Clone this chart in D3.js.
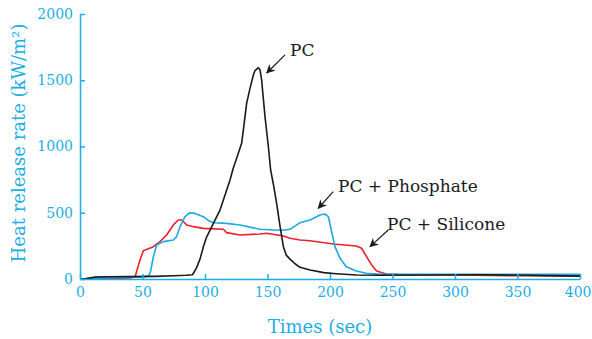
<!DOCTYPE html>
<html>
<head>
<meta charset="utf-8">
<script src="https://cdn.jsdelivr.net/npm/d3@7"></script>
<style>
  body { margin: 0; background: #fff; }
  svg { display: block; font-family: 'DejaVu Serif', serif; }
</style>
</head>
<body>
<svg id="chart" width="592" height="339"></svg>
<script>
// heat release rate curves (time in s, HRR in kW/m2)
const pcTime = [0, 5, 12, 20, 40, 60, 75, 85, 90, 93, 96, 98.7, 101, 106.7, 112, 114.7, 120, 122.7, 126, 129.3, 130.7, 133.3, 136, 138.7, 140, 142.7, 144, 145.3, 148, 150.7, 152.5, 155, 157.3, 160, 162.7, 165, 168, 172, 176, 184, 195, 205, 221, 240, 280, 320, 360, 400];
const pcHrr = [0, 3, 14, 17, 18, 20, 24, 28, 32, 80, 150, 244, 310, 420, 520, 596, 747, 840, 930, 1024, 1125, 1326, 1439, 1540, 1573, 1595, 1580, 1502, 1225, 998, 823, 700, 571, 400, 244, 180, 150, 115, 88, 68, 48, 40, 30, 28, 30, 32, 28, 22];

const phosTime = [0, 10, 20, 40, 52, 55, 56.5, 58.7, 61.3, 66.7, 74.7, 77.3, 80, 84, 88, 92, 98.7, 103, 106.7, 117, 128, 144, 155, 162.7, 168, 176, 184, 192, 196, 198.7, 201, 204, 208, 213, 221, 229, 240, 280, 320, 360, 400];
const phosHrr = [0, 5, 10, 14, 18, 25, 60, 168, 257, 282, 294, 320, 395, 470, 500, 495, 470, 440, 425, 420, 408, 375, 370, 368, 375, 425, 445, 483, 490, 470, 370, 244, 156, 93, 60, 43, 35, 35, 36, 35, 35];

const siliTime = [0, 10, 20, 40, 44, 46, 48, 50.7, 58.7, 64, 69.3, 74.7, 78.7, 81.3, 85.3, 90.7, 98.7, 114.7, 117.3, 128, 144, 149.3, 162.7, 168, 176, 184, 202.7, 221, 225.3, 229.3, 233.3, 237.3, 245, 260, 300, 350, 400];
const siliHrr = [0, 3, 5, 8, 15, 80, 143, 214, 244, 282, 332, 408, 445, 445, 408, 395, 382, 375, 350, 332, 340, 345, 325, 307, 294, 289, 264, 249, 232, 168, 106, 60, 38, 32, 30, 25, 22];

const xTicks = [0, 50, 100, 150, 200, 250, 300, 350, 400];
const yTicks = [0, 500, 1000, 1500, 2000];

// label text, label anchor, arrow tail, arrow head (data units)
const notes = [
  { text: 'PC', at: [168, 1683], from: [164, 1691], to: [149.4, 1555] },
  { text: 'PC + Phosphate', at: [206.4, 657], from: [202.6, 659], to: [190.6, 534] },
  { text: 'PC + Silicone', at: [245.6, 370], from: [246.6, 370], to: [232, 244] }
];

const cyan = '#1badE6';
const svg = d3.select('#chart');

const x = d3.scaleLinear().domain([0, 400]).range([80, 580]);
const y = d3.scaleLinear().domain([0, 2000]).range([279, 14]);

const series = [
  { t: siliTime, v: siliHrr, color: '#e8212b' },
  { t: phosTime, v: phosHrr, color: '#1aa9e2' },
  { t: pcTime, v: pcHrr, color: '#1a1a1a' }
];

const line = d3.line().x(d => x(d[0])).y(d => y(d[1]));

svg.selectAll('path.curve')
  .data(series)
  .enter()
  .append('path')
  .attr('class', 'curve')
  .attr('d', s => line(s.t.map((t, i) => [t, s.v[i]])))
  .attr('fill', 'none')
  .attr('stroke', s => s.color)
  .attr('stroke-width', 1.6)
  .attr('stroke-linejoin', 'round');

// axes, ticks pointing inward
const xAxis = svg.append('g')
  .attr('transform', 'translate(0,' + y(0) + ')')
  .call(d3.axisBottom(x).tickValues(xTicks).tickFormat(d3.format('d'))
    .tickSizeInner(-5).tickSizeOuter(0).tickPadding(8));
const yAxis = svg.append('g')
  .attr('transform', 'translate(' + x(0) + ',0)')
  .call(d3.axisLeft(y).tickValues(yTicks).tickFormat(d3.format('d'))
    .tickSizeInner(-5).tickSizeOuter(0).tickPadding(7));

[xAxis, yAxis].forEach(g => {
  g.attr('font-family', "'DejaVu Serif', serif").attr('font-size', 14);
  g.select('.domain').attr('stroke', cyan).attr('stroke-width', 1.5);
  g.selectAll('.tick line').attr('stroke', cyan).attr('stroke-width', 1.5);
  g.selectAll('.tick text').attr('fill', cyan);
});

// last x label sits against the right edge, keep it inside
xAxis.selectAll('.tick text')
  .filter(d => d === 400)
  .attr('text-anchor', 'end')
  .attr('dx', 11);

svg.append('text')
  .attr('x', 320)
  .attr('y', 333)
  .attr('text-anchor', 'middle')
  .attr('fill', cyan)
  .style('font-size', '18px')
  .text('Times (sec)');

svg.append('text')
  .attr('transform', 'translate(25,143) rotate(-90)')
  .attr('text-anchor', 'middle')
  .attr('fill', cyan)
  .style('font-size', '18px')
  .text('Heat release rate (kW/m²)');

// annotations
svg.append('defs')
  .append('marker')
  .attr('id', 'head')
  .attr('viewBox', '0 0 10 10')
  .attr('refX', 9)
  .attr('refY', 5)
  .attr('markerWidth', 9)
  .attr('markerHeight', 9)
  .attr('markerUnits', 'userSpaceOnUse')
  .attr('orient', 'auto')
  .append('path')
  .attr('d', 'M0,0 L10,5 L0,10 L3,5 Z')
  .attr('fill', '#1a1a1a');

const note = svg.selectAll('g.note').data(notes).enter().append('g').attr('class', 'note');
note.append('line')
  .attr('x1', d => x(d.from[0]))
  .attr('y1', d => y(d.from[1]))
  .attr('x2', d => x(d.to[0]))
  .attr('y2', d => y(d.to[1]))
  .attr('stroke', '#1a1a1a')
  .attr('stroke-width', 1.2)
  .attr('marker-end', 'url(#head)');
note.append('text')
  .attr('x', d => x(d.at[0]))
  .attr('y', d => y(d.at[1]))
  .attr('fill', '#1a1a1a')
  .style('font-size', '17px')
  .text(d => d.text);
</script>
</body>
</html>
